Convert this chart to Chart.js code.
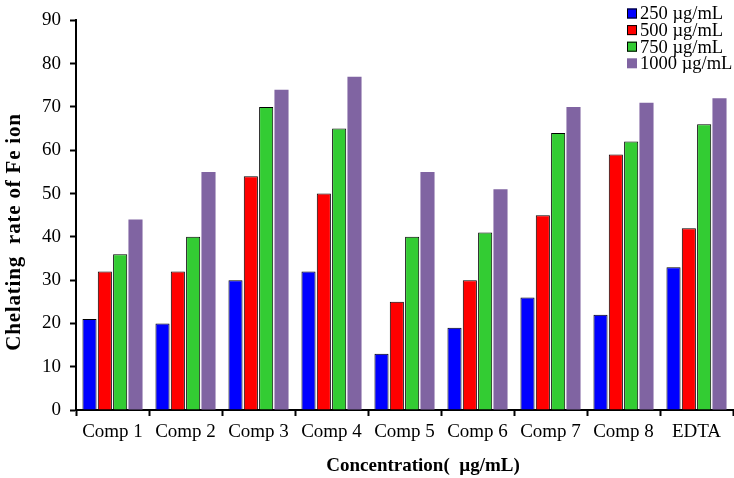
<!DOCTYPE html>
<html>
<head>
<meta charset="utf-8">
<script src="https://cdn.jsdelivr.net/npm/chart.js@4"></script>
<style>
  html, body { margin: 0; padding: 0; background: #fff; }
  #wrap { width: 734px; height: 478px; }
</style>
</head>
<body>
<div id="wrap"><canvas id="chart"></canvas></div>
<script>
let categories = ['Comp 1', 'Comp 2', 'Comp 3', 'Comp 4', 'Comp 5', 'Comp 6', 'Comp 7', 'Comp 8', 'EDTA'];
let seriesNames = ['250 µg/mL', '500 µg/mL', '750 µg/mL', '1000 µg/mL'];
let conc250 = [21, 20, 30, 32, 13, 19, 26, 22, 33];
let conc500 = [32, 32, 54, 50, 25, 30, 45, 59, 42];
let conc750 = [36, 40, 70, 65, 40, 41, 64, 62, 66];
let conc1000 = [44, 55, 74, 77, 55, 51, 70, 71, 72];
let yTicks = [0, 10, 20, 30, 40, 50, 60, 70, 80, 90];

let colors = ['#0000FF', '#FF0000', '#33CC33', '#8064A2'];
let serif = "'Liberation Serif', 'Times New Roman', serif";

// small legend in the top right corner, drawn over the plot
let cornerLegend = {
  id: 'cornerLegend',
  afterDraw(chart) {
    let ctx = chart.ctx;
    ctx.save();
    ctx.font = '18.5px ' + serif;
    ctx.textAlign = 'left';
    ctx.textBaseline = 'middle';
    chart.data.datasets.forEach((ds, i) => {
      let cy = 13.5 + i * 16.6;
      ctx.fillStyle = ds.backgroundColor;
      ctx.fillRect(627, cy - 5, 10, 10);
      if (ds.borderWidth) {
        ctx.strokeStyle = '#000';
        ctx.lineWidth = 1;
        ctx.strokeRect(627.5, cy - 4.5, 9, 9);
      }
      ctx.fillStyle = '#000';
      ctx.fillText(ds.label, 640, cy + 1);
    });
    ctx.restore();
  }
};

// axis titles drawn by hand: y needs wide letter spacing, x sits off centre
let axisTitles = {
  id: 'axisTitles',
  afterDraw(chart) {
    let ctx = chart.ctx;
    ctx.save();
    ctx.fillStyle = '#000';
    ctx.textAlign = 'center';
    ctx.textBaseline = 'middle';
    ctx.font = 'bold 19px ' + serif;
    ctx.fillText('Concentration(  µg/mL)', 423, 466);
    ctx.translate(15, 232);
    ctx.rotate(-Math.PI / 2);
    ctx.font = 'bold 21px ' + serif;
    ctx.letterSpacing = '0.8px';
    ctx.fillText('Chelating  rate of Fe ion', 0, 0);
    ctx.restore();
  }
};

let seriesData = [conc250, conc500, conc750, conc1000];
let datasets = seriesNames.map((name, i) => ({
  label: name,
  data: seriesData[i],
  backgroundColor: colors[i],
  borderColor: i === 3 ? colors[i] : '#000',
  borderWidth: i === 3 ? 0 : 1,
  barPercentage: 0.92,
  categoryPercentage: 0.84
}));

let ctx = document.getElementById('chart').getContext('2d');
let chart = new Chart(ctx, {
  type: 'bar',
  data: { labels: categories, datasets: datasets },
  plugins: [cornerLegend, axisTitles],
  options: {
    responsive: true,
    maintainAspectRatio: false,
    animation: false,
    layout: { padding: { left: 0, top: 12, right: 1, bottom: 0 } },
    plugins: {
      legend: { display: false },
      tooltip: { enabled: false }
    },
    scales: {
      x: {
        grid: { display: true, drawOnChartArea: false, offset: true, tickLength: 6, tickWidth: 2, tickColor: '#000' },
        border: { display: true, color: '#000', width: 2 },
        ticks: { font: { family: serif, size: 19 }, color: '#000', padding: 5, maxRotation: 0, autoSkip: false },
        afterFit(s) { s.height = 68; }
      },
      y: {
        min: 0,
        max: 90,
        afterBuildTicks(s) { s.ticks = yTicks.map(v => ({ value: v })); },
        grid: { display: true, drawOnChartArea: false, tickLength: 6, tickWidth: 2, tickColor: '#000' },
        border: { display: true, color: '#000', width: 2 },
        ticks: { font: { family: serif, size: 19 }, color: '#000', padding: 9 },
        afterFit(s) { s.width = 76; }
      }
    }
  }
});
</script>
</body>
</html>
